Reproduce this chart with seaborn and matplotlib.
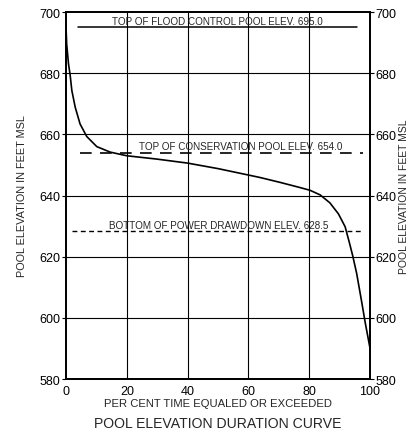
import matplotlib
matplotlib.use("Agg")
import matplotlib.pyplot as plt
import seaborn as sns
import pandas as pd

# Duration curve readings
pct_time = [0.0, 0.2, 0.8, 1.3, 1.9, 3.0, 4.6, 6.8, 10.1, 14.5, 20.0, 30.0, 40.0, 50.0,
            60.0, 63.8, 70.4, 77.0, 80.3, 83.6, 86.8, 89.6, 91.8, 93.2, 94.3, 95.6,
            97.2, 98.4, 100.0]
elevation = [694.5, 689.5, 683.0, 679.7, 674.3, 668.9, 663.4, 659.3, 656.0, 654.2, 653.0,
             651.9, 650.6, 648.8, 646.7, 645.9, 644.3, 642.6, 641.7, 640.2, 637.6, 634.0,
             629.8, 624.6, 620.3, 614.5, 605.5, 598.5, 590.0]

levels = [695.0, 654.0, 628.5]
level_labels = ["TOP OF FLOOD CONTROL POOL ELEV. 695.0",
                "TOP OF CONSERVATION POOL ELEV. 654.0",
                "BOTTOM OF POWER DRAWDOWN ELEV. 628.5"]
y_ticks = [580, 600, 620, 640, 660, 680, 700]
x_ticks = [0, 20, 40, 60, 80, 100]

sns.set_style("white")
plt.rcParams['font.family'] = ['Liberation Sans Narrow', 'Liberation Sans', 'DejaVu Sans']

fig = plt.figure(figsize=(4.13, 4.35), dpi=100)
ax = fig.add_axes([0.160, 0.1264, 0.736, 0.8436])

df = pd.DataFrame({"pct": pct_time, "elev": elevation})

# grid
for xv in x_ticks[1:-1]:
    ax.axvline(xv, color="black", lw=0.8, zorder=1)
for yv in y_ticks[1:-1]:
    ax.axhline(yv, color="black", lw=0.8, zorder=1)

sns.lineplot(data=df, x="pct", y="elev", ax=ax, color="black", lw=1.2, zorder=3)

# reference levels
ax.plot([4, 95.7], [levels[0], levels[0]], color="black", lw=1.1)
ax.plot([4.6, 97.7], [levels[1], levels[1]], color="black", lw=1.2, dashes=(7, 5))
ax.plot([2, 97.4], [levels[2], levels[2]], color="black", lw=1.0, dashes=(3.5, 2.5))

tfs = 7.1
ax.text(49.7, 697.2, level_labels[0], ha="center", va="center", fontsize=tfs)
ax.text(57.6, 656.3, level_labels[1], ha="center", va="center", fontsize=tfs)
ax.text(50.2, 630.3, level_labels[2], ha="center", va="center", fontsize=tfs)

ax.set_xlim(0, 100)
ax.set_ylim(580, 700)
ax.set_xticks(x_ticks)
ax.set_yticks(y_ticks)
ax.tick_params(direction="out", length=3, width=0.8, labelsize=9, pad=1, colors="black")
ax.set_xlabel("PER CENT TIME EQUALED OR EXCEEDED", fontsize=8.1, labelpad=1)
ax.set_ylabel("POOL ELEVATION IN FEET MSL", fontsize=7.8, labelpad=9)
for s in ax.spines.values():
    s.set_color("black")
    s.set_linewidth(1.3)

ax2 = ax.twinx()
ax2.set_ylim(580, 700)
ax2.set_yticks(y_ticks)
ax2.tick_params(direction="out", length=3, width=0.8, labelsize=9, pad=1, colors="black")
ax2.set_ylabel("POOL ELEVATION IN FEET MSL", fontsize=7.5, labelpad=2)
for s in ax2.spines.values():
    s.set_color("black")
    s.set_linewidth(1.3)

fig.text(0.527, 0.025, "POOL ELEVATION DURATION CURVE", ha="center", va="center", fontsize=10.1)

fig.savefig("out.png", dpi=100)
